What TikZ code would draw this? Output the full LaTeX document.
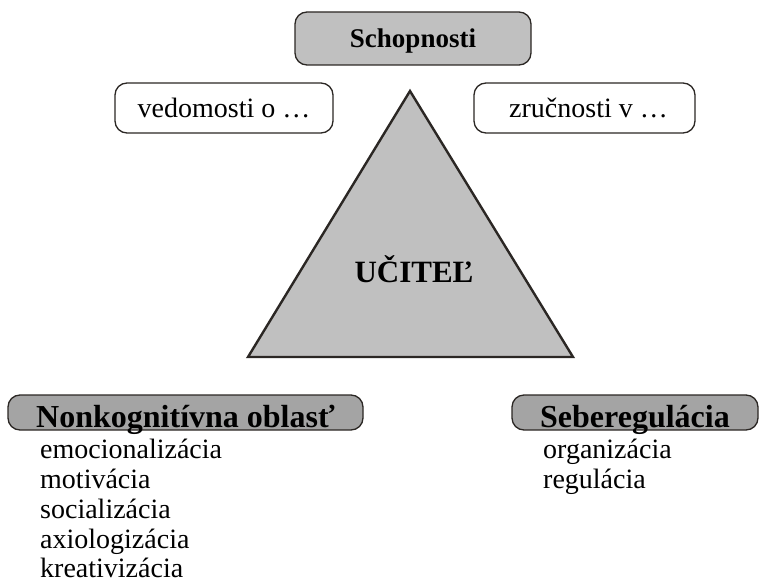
\documentclass[tikz,border=0pt]{standalone}
\usepackage{fontspec}
\setmainfont{Liberation Serif}
\usepackage{tikz}
\usetikzlibrary{backgrounds}
\definecolor{boxgray}{HTML}{C0C0C0}
\definecolor{headgray}{HTML}{A4A4A4}
\definecolor{edge}{HTML}{2B2724}
\tikzstyle{shaded}=[fill=boxgray]
\tikzstyle{darkshaded}=[fill=headgray]
\tikzstyle{unshaded}=[fill=white]
\tikzstyle{rbox}=[draw=edge, line width=1.3pt, rounded corners=12pt, inner sep=0pt, text depth=0pt]
\tikzstyle{item}=[anchor=base west, inner sep=0pt, font=\fontsize{28}{30}\selectfont]
\newcommand{\bigtxt}[1]{\fontsize{#1}{#1}\selectfont}

\begin{document}
\begin{tikzpicture}[x=1pt, y=-1pt]
 \useasboundingbox (0,0) rectangle (760,583);
%
 \draw[shaded, draw=edge, line width=2.4pt, line join=miter] (410,91) coordinate (top)
   -- (573,357) coordinate (right) -- (248,357) coordinate (left) -- cycle;
 \node[anchor=base] (ucitel) at (414,282) {\bigtxt{31}\bfseries UČITEĽ};
%
 \node[rbox, shaded, minimum width=236pt, minimum height=53pt, text height=19pt]
   (schop) at (413,38.5) {\bigtxt{27}\bfseries Schopnosti};
 \node[rbox, unshaded, minimum width=218pt, minimum height=50pt, text height=20pt]
   (vedom) at (224,108) {\bigtxt{28}vedomosti o …\hspace{8pt}};
 \node[rbox, unshaded, minimum width=221pt, minimum height=50pt, text height=20pt]
   (zrucn) at (584.5,108) {\bigtxt{28}\hspace{8pt}zručnosti v …};
%
 \node[rbox, darkshaded, minimum width=355pt, minimum height=35pt, text height=29pt]
   (nonkog) at (185.5,412.5) {\bigtxt{32}\bfseries Nonkognitívna oblasť};
 \node[rbox, darkshaded, minimum width=246pt, minimum height=35pt, text height=29pt]
   (sebereg) at (635,412.5) {\bigtxt{32}\bfseries Seberegulácia};
%
 \node[item] (emoc) at (40,458) {emocionalizácia};
 \node[item] (motiv) at (40,488) {motivácia};
 \node[item] (social) at (40,518) {socializácia};
 \node[item] (axiol) at (40,548) {axiologizácia};
 \node[item] (kreat) at (40,577.5) {kreativizácia};
%
 \node[item] (organ) at (543,458) {organizácia};
 \node[item] (regul) at (543,488) {regulácia};
\end{tikzpicture}
\end{document}
